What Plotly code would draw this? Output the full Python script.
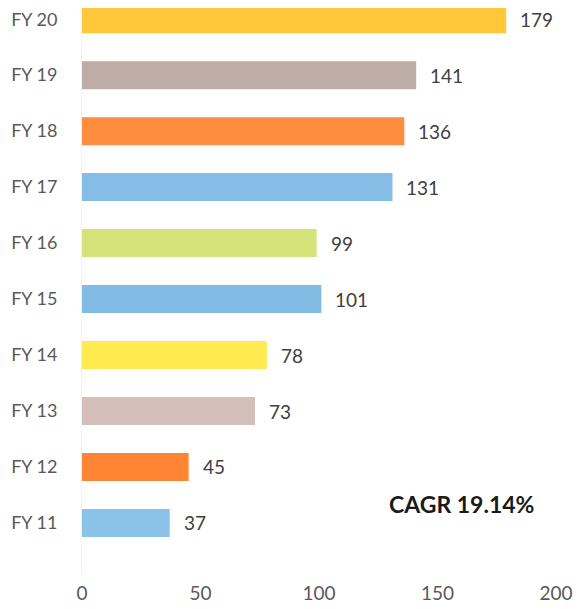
import plotly.graph_objects as go

categories = ["FY 11", "FY 12", "FY 13", "FY 14", "FY 15", "FY 16", "FY 17", "FY 18", "FY 19", "FY 20"]
values = [37, 45, 73, 78, 101, 99, 131, 136, 141, 179]
colors = ["#8AC2E8", "#FF8534", "#D4BFBA", "#FFEB50", "#82BBE3", "#D4E47A", "#86BDE6", "#FF8C3F", "#BDADA6", "#FFC73A"]
x_ticks = [0, 50, 100, 150, 200]
note_text = "CAGR 19.14%"

FONT = "Lato, sans-serif"

fig = go.Figure()
fig.add_trace(go.Bar(
    y=categories, x=values, orientation="h",
    marker=dict(color=colors, line=dict(width=0)),
    width=0.5, hoverinfo="skip",
))

for c, v in zip(categories, values):
    fig.add_annotation(x=v, y=c, text=str(v), showarrow=False,
                       xanchor="left", xshift=12,
                       font=dict(family=FONT, size=19, color="#404040"))

fig.add_annotation(x=160, y=0.33, text="<b>" + note_text + "</b>", showarrow=False,
                   xanchor="center", yanchor="middle",
                   font=dict(family=FONT, size=23, color="#1a1a1a"))

fig.update_layout(
    width=574, height=601,
    margin=dict(l=74, r=26, t=0, b=34),
    paper_bgcolor="white", plot_bgcolor="white",
    showlegend=False,
    font=dict(family=FONT, size=18, color="#595959"),
    xaxis=dict(range=[0, 200], tickvals=x_ticks, showgrid=False, zeroline=False,
               showline=False, ticks="", automargin=False, ticklabelstandoff=5,
               tickfont=dict(family=FONT, size=19, color="#595959")),
    yaxis=dict(type="category", categoryorder="array", categoryarray=categories,
               range=[-0.93, 9.2], showgrid=False, zeroline=False,
               showline=True, linecolor="#F2F2F2", linewidth=1,
               ticks="", ticklabelstandoff=20, automargin=False,
               tickfont=dict(family=FONT, size=18, color="#595959")),
)

fig.write_html("out.html")
